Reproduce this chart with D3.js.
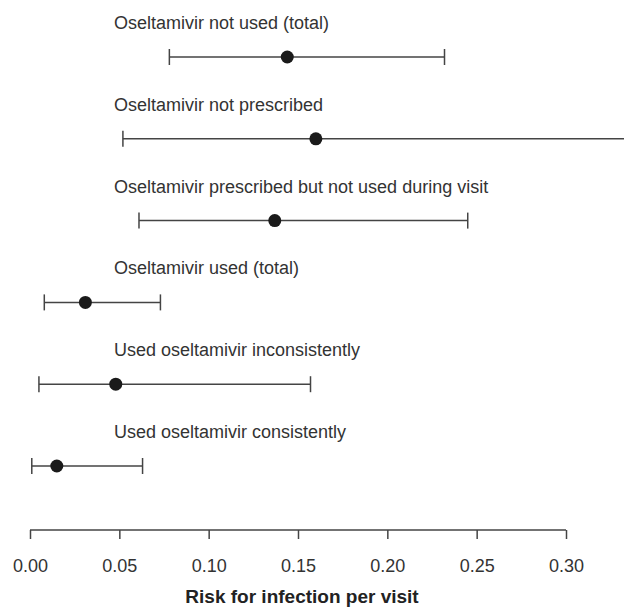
<!DOCTYPE html>
<html>
<head>
<meta charset="utf-8">
<script src="https://cdn.jsdelivr.net/npm/d3@7"></script>
<style>
  body { margin: 0; background: #fff; }
  svg { font-family: "Liberation Sans", Arial, sans-serif; }
</style>
</head>
<body>
<svg id="chart" width="624" height="607"></svg>
<script>
// groups, top to bottom
const groups = [
  "Oseltamivir not used (total)",
  "Oseltamivir not prescribed",
  "Oseltamivir prescribed but not used during visit",
  "Oseltamivir used (total)",
  "Used oseltamivir inconsistently",
  "Used oseltamivir consistently"
];
const estimate = [0.144, 0.160, 0.137, 0.031, 0.048, 0.015];
const lower = [0.078, 0.052, 0.061, 0.008, 0.005, 0.001];
const upper = [0.232, 0.36, 0.245, 0.073, 0.157, 0.063];
const xTicks = [0, 0.05, 0.10, 0.15, 0.20, 0.25, 0.30];

const svg = d3.select("#chart");
const width = 624, height = 607;

const x = d3.scaleLinear().domain([0, 0.30]).range([30, 566]);
const y = d3.scalePoint().domain(groups).range([57, 466]);

const rows = groups.map((g, i) => ({ g: g, est: estimate[i], lo: lower[i], hi: upper[i] }));

// labels above each interval
svg.selectAll("text.lab")
  .data(rows)
  .enter().append("text")
  .attr("class", "lab")
  .attr("x", 114)
  .attr("y", d => y(d.g) - 28)
  .attr("font-size", 18)
  .attr("fill", "#333")
  .text(d => d.g);

// interval lines
svg.selectAll("line.ci")
  .data(rows)
  .enter().append("line")
  .attr("class", "ci")
  .attr("x1", d => x(d.lo))
  .attr("x2", d => x(d.hi))
  .attr("y1", d => y(d.g))
  .attr("y2", d => y(d.g))
  .attr("stroke", "#444")
  .attr("stroke-width", 1.5);

// end caps (only where the end is on the page)
const caps = [];
rows.forEach(d => {
  caps.push({ g: d.g, v: d.lo });
  if (x(d.hi) < width) caps.push({ g: d.g, v: d.hi });
});
svg.selectAll("line.cap")
  .data(caps)
  .enter().append("line")
  .attr("class", "cap")
  .attr("x1", d => x(d.v))
  .attr("x2", d => x(d.v))
  .attr("y1", d => y(d.g) - 8)
  .attr("y2", d => y(d.g) + 8)
  .attr("stroke", "#444")
  .attr("stroke-width", 1.5);

// point estimates
svg.selectAll("circle")
  .data(rows)
  .enter().append("circle")
  .attr("cx", d => x(d.est))
  .attr("cy", d => y(d.g))
  .attr("r", 6.5)
  .attr("fill", "#1a1a1a");

// x axis, R style
const xAxis = d3.axisBottom(x)
  .tickValues(xTicks)
  .tickFormat(d3.format(".2f"))
  .tickSize(9)
  .tickPadding(20);

const ax = svg.append("g")
  .attr("transform", "translate(0,530)")
  .call(xAxis);
ax.select(".domain").remove();
ax.append("line")
  .attr("x1", x(0)).attr("x2", x(0.30))
  .attr("stroke", "#444").attr("stroke-width", 1.5);
ax.selectAll(".tick line").attr("stroke", "#444").attr("stroke-width", 1.5);
ax.selectAll(".tick text")
  .attr("font-size", 18)
  .attr("font-family", "Liberation Sans, Arial, sans-serif")
  .attr("fill", "#333");

svg.append("text")
  .attr("x", 302)
  .attr("y", 603)
  .attr("text-anchor", "middle")
  .attr("font-size", 19)
  .attr("font-weight", "bold")
  .attr("fill", "#222")
  .text("Risk for infection per visit");
</script>
</body>
</html>
